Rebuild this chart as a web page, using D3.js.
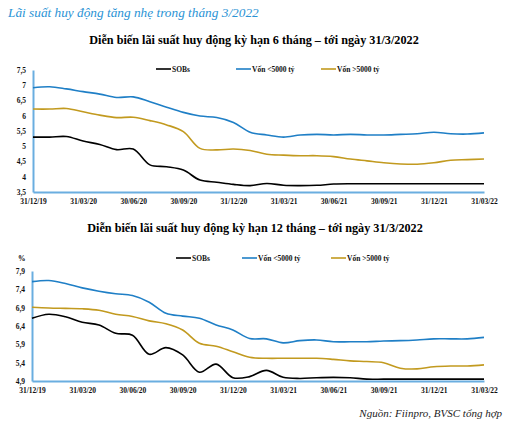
<!DOCTYPE html>
<html><head><meta charset="utf-8">
<script src="https://cdn.jsdelivr.net/npm/d3@7"></script>
<style>body{margin:0;background:#fff;}svg{display:block;}</style>
</head><body>
<svg id="c" width="508" height="433"></svg>
<script>
const xTickLabels = ["31/12/19","31/03/20","30/06/20","30/09/20","31/12/20","31/03/21","30/06/21","30/09/21","31/12/21","31/03/22"];
const seriesNames = ["SOBs","Vốn <5000 tỷ","Vốn >5000 tỷ"];
// 6-month term, monthly from 12/2019 to 03/2022
const sobs6 = [5.30,5.30,5.32,5.17,5.06,4.89,4.91,4.39,4.33,4.22,3.89,3.82,3.75,3.71,3.78,3.72,3.71,3.72,3.76,3.77,3.77,3.77,3.77,3.77,3.77,3.77,3.77,3.77];
const small6 = [6.92,6.95,6.88,6.79,6.71,6.60,6.62,6.46,6.28,6.11,5.99,5.94,5.78,5.46,5.37,5.30,5.37,5.39,5.37,5.39,5.37,5.37,5.39,5.41,5.46,5.41,5.40,5.44];
const large6 = [6.22,6.22,6.24,6.13,6.02,5.94,5.95,5.84,5.70,5.48,4.93,4.88,4.91,4.86,4.74,4.71,4.69,4.69,4.66,4.58,4.52,4.46,4.42,4.41,4.46,4.54,4.56,4.58];
// 12-month term
const sobs12 = [6.61,6.72,6.65,6.50,6.43,6.20,6.15,5.63,5.81,5.61,5.14,5.36,4.99,5.02,5.19,5.00,4.97,4.99,5.00,4.99,4.95,4.95,4.95,4.95,4.95,4.95,4.95,4.95];
const small12 = [7.61,7.64,7.56,7.44,7.35,7.28,7.23,7.05,6.75,6.67,6.61,6.43,6.29,6.06,6.05,5.94,6.00,6.02,5.97,5.97,5.97,5.99,6.00,6.02,6.05,6.05,6.05,6.09];
const large12 = [6.91,6.89,6.88,6.87,6.83,6.72,6.66,6.54,6.46,6.29,5.93,5.85,5.70,5.55,5.52,5.52,5.52,5.52,5.49,5.45,5.43,5.40,5.25,5.23,5.29,5.31,5.31,5.34];
const yTicks6 = [3.5,4,4.5,5,5.5,6,6.5,7,7.5];
const yTicks12 = [4.9,5.4,5.9,6.4,6.9,7.4,7.9];

const colors = ["#000000","#1f7fc6","#c29a1f"];
const axisColor = "#6aaee0";
const serif = "'Liberation Serif','Times New Roman',serif";
const svg = d3.select("#c");

svg.append("text").attr("x",8).attr("y",17)
  .attr("font-family",serif).attr("font-style","italic").attr("font-size",13.3)
  .attr("fill","#2a93d5").text("Lãi suất huy động tăng nhẹ trong tháng 3/2022");

svg.append("text").attr("x",502).attr("y",417).attr("text-anchor","end")
  .attr("font-family",serif).attr("font-style","italic").attr("font-size",11)
  .attr("fill","#222").text("Nguồn: Fiinpro, BVSC tổng hợp");

function chart(cfg){
  const g = svg.append("g");
  const x = d3.scaleLinear().domain([0,27]).range([cfg.x0,cfg.x1]);
  const y = d3.scaleLinear().domain([cfg.yTicks[0],cfg.yTicks[cfg.yTicks.length-1]]).range([cfg.yb,cfg.yt]);
  g.append("text").attr("x",cfg.titleX).attr("y",cfg.titleY).attr("text-anchor","middle")
    .attr("font-family",serif).attr("font-weight","bold").attr("font-size",12.2)
    .attr("fill","#000").text(cfg.title);
  const ya = g.append("g").attr("transform",`translate(${cfg.x0},0)`)
    .call(d3.axisLeft(y).tickValues(cfg.yTicks).tickSize(0).tickPadding(7)
      .tickFormat(d=>String(d).replace(".",",")));
  ya.select(".domain").attr("stroke",axisColor).attr("stroke-width",2);
  ya.selectAll("text").attr("font-family",serif).attr("font-weight","bold").attr("font-size",7.5).attr("fill","#111");
  const xa = g.append("g").attr("transform",`translate(0,${cfg.yb})`)
    .call(d3.axisBottom(x).tickValues(d3.range(0,28,3)).tickSize(0).tickPadding(6.5)
      .tickFormat((d,i)=>xTickLabels[i]));
  xa.select(".domain").attr("stroke",axisColor).attr("stroke-width",2);
  xa.selectAll("text").attr("font-family",serif).attr("font-weight","bold").attr("font-size",7.5).attr("fill","#111");
  if(cfg.unit){
    g.append("text").attr("x",cfg.x0-14).attr("y",cfg.yt-10).attr("font-family",serif)
      .attr("font-weight","bold").attr("font-size",7.5).text(cfg.unit);
  }
  const line = d3.line().x((d,i)=>x(i)).y(d=>y(d)).curve(d3.curveCatmullRom.alpha(0.5));
  cfg.series.forEach((s,k)=>{
    g.append("path").datum(s).attr("d",line).attr("fill","none")
      .attr("stroke",colors[k]).attr("stroke-width",1.6);
  });
  cfg.legendX.forEach((lx,k)=>{
    g.append("line").attr("x1",lx).attr("x2",lx+15).attr("y1",cfg.legendY).attr("y2",cfg.legendY)
      .attr("stroke",colors[k]).attr("stroke-width",1.6);
    g.append("text").attr("x",lx+16).attr("y",cfg.legendY+2.5).attr("font-family",serif)
      .attr("font-weight","bold").attr("font-size",7.5).attr("fill","#111").text(seriesNames[k]);
  });
}

chart({title:"Diễn biến lãi suất huy động kỳ hạn 6 tháng – tới ngày 31/3/2022",
  titleX:254,titleY:44,x0:33,x1:484,yt:70,yb:192,yTicks:yTicks6,
  series:[sobs6,small6,large6],legendX:[156,236,321],legendY:69});
chart({title:"Diễn biến lãi suất huy động kỳ hạn 12 tháng – tới ngày 31/3/2022",
  titleX:255,titleY:232,x0:32,x1:484,yt:271,yb:381,yTicks:yTicks12,unit:"%",
  series:[sobs12,small12,large12],legendX:[176,242,331],legendY:258});
</script>
</body></html>
